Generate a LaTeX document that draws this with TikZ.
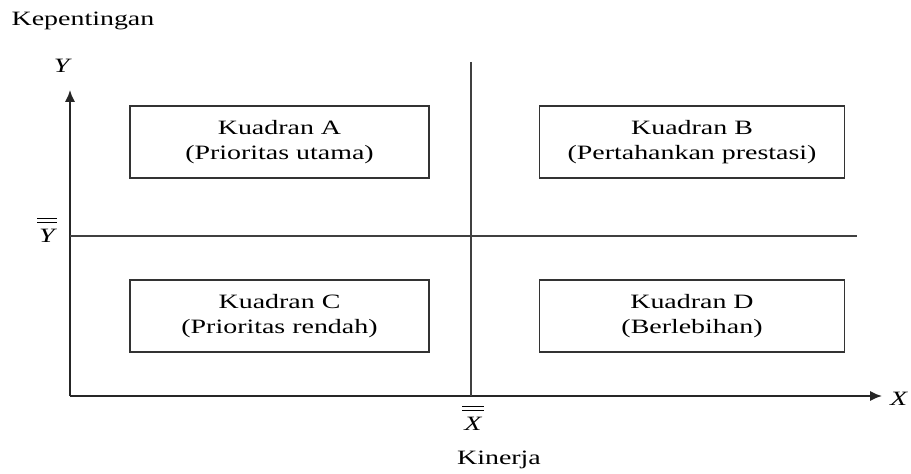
\documentclass[tikz,border=0pt]{standalone}
\usepackage{fontspec}
\setmainfont{Liberation Serif}[FakeStretch=1.37]
\usetikzlibrary{arrows.meta}
\newcommand\dblbar[1]{$\overline{\overline{\kern1.2pt\rule{0pt}{10.3pt}\textit{#1}\kern1.2pt}}$}
\begin{document}
\begin{tikzpicture}[x=0.02cm,y=-0.02cm,
  every node/.style={font=\fontsize{11.6}{14.2}\selectfont, inner sep=0pt},
  axis/.style={line width=1.1pt, draw=black!85, -{Latex[length=6.8pt,width=5.8pt]}},
  divider/.style={line width=0.8pt, draw=black!75},
  quadbox/.style={draw=black!80, line width=0.8pt, align=center,
    minimum width=299*0.02cm, minimum height=72*0.02cm}]
\useasboundingbox (0,0) rectangle (911,473);

% axes
\coordinate (O) at (70,396);
\coordinate (ytip) at (70,90);
\coordinate (xtip) at (882,396);
\draw[axis] (O) -- (ytip);
\draw[axis] (O) -- (xtip);

% dividing lines at the means
\coordinate (vtop) at (471,62);
\coordinate (vbot) at (471,396);
\coordinate (hl) at (70,236);
\coordinate (hr) at (857,236);
\draw[divider] (vtop) -- (vbot);
\draw[divider] (hl) -- (hr);

% axis labels
\node (kep) at (83,21) {Kepentingan};
\node (ylab) at (63,66) {\textit{Y}};
\node (xlab) at (899,399) {\textit{X}};
\node (ybar) at (47,230) {\dblbar{Y}};
\node (xbar) at (473,418) {\dblbar{X}};
\node (kin) at (499,460) {Kinerja};

% quadrants
\node[quadbox] (qa) at (279.5,142) {Kuadran A\\(Prioritas utama)};
\node[quadbox, minimum width=305*0.02cm] (qb) at (692,142) {Kuadran B\\(Pertahankan prestasi)};
\node[quadbox] (qc) at (279.5,316) {Kuadran C\\(Prioritas rendah)};
\node[quadbox, minimum width=305*0.02cm] (qd) at (692,316) {Kuadran D\\(Berlebihan)};
\end{tikzpicture}
\end{document}
